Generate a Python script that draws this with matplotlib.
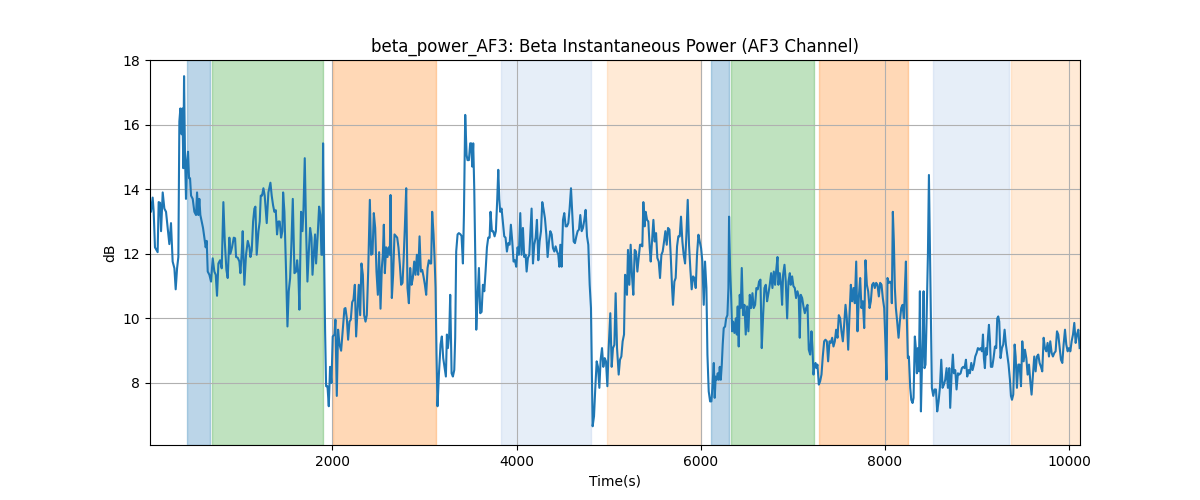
import matplotlib
matplotlib.use("Agg")
import matplotlib.pyplot as plt

time_s = [
    18, 29, 47, 58, 72, 91, 101, 112, 127, 138, 156, 174, 192, 210, 228, 246, 264, 283, 297, 312,
    326, 337, 348, 362, 370, 380, 388, 398, 409, 420, 431, 442, 453, 464, 482, 500, 518, 529, 543, 554,
    565, 580, 594, 609, 623, 634, 645, 663, 681, 699, 717, 732, 746, 761, 779, 797, 815, 830, 848, 862,
    880, 891, 909, 928, 942, 953, 971, 989, 1000, 1014, 1025, 1043, 1061, 1080, 1098, 1109, 1123, 1138, 1152, 1163,
    1177, 1196, 1210, 1221, 1235, 1250, 1264, 1286, 1304, 1326, 1340, 1355, 1369, 1384, 1398, 1413, 1427, 1442, 1456, 1464,
    1478, 1496, 1511, 1525, 1540, 1554, 1569, 1587, 1605, 1616, 1630, 1641, 1659, 1674, 1685, 1699, 1714, 1728, 1743, 1757,
    1772, 1783, 1797, 1811, 1822, 1840, 1855, 1869, 1880, 1891, 1898, 1909, 1920, 1931, 1946, 1960, 1974, 1989, 2003, 2022,
    2032, 2047, 2061, 2076, 2094, 2109, 2130,
    2141, 2156, 2170, 2185, 2199, 2214, 2228, 2243, 2257, 2272, 2286, 2301, 2315, 2330, 2344, 2359, 2373, 2388, 2406, 2420,
    2435, 2449, 2464, 2478, 2493, 2507, 2522, 2536, 2547, 2558, 2569, 2583, 2598, 2612, 2623, 2631, 2645, 2659, 2674, 2688,
    2703, 2717, 2732, 2746, 2761, 2772, 2786, 2801, 2815, 2830, 2844, 2859, 2873, 2888, 2902, 2917, 2931, 2946, 2960, 2975,
    2989, 3004, 3018, 3033, 3047, 3062, 3072, 3083, 3098, 3109, 3120, 3130, 3141, 3156, 3174, 3188, 3203, 3217, 3232, 3243,
    3254, 3268, 3279, 3294, 3308, 3323, 3333, 3344, 3359, 3373, 3391, 3402, 3417, 3428, 3442, 3457, 3467, 3482, 3496, 3507,
    3518, 3529, 3540, 3551, 3562, 3576, 3591, 3605, 3620, 3634, 3649, 3663, 3678, 3692, 3707, 3717, 3732, 3746, 3761, 3775,
    3790, 3801, 3812, 3822, 3837, 3851, 3866, 3880, 3895, 3909, 3924, 3938, 3953, 3967, 3982, 3996, 4011, 4025, 4040, 4054,
    4069, 4083, 4098, 4109, 4123, 4138,
    4149, 4163, 4178, 4192, 4207, 4221, 4236, 4250, 4265, 4279, 4294, 4308, 4323, 4337, 4352, 4366, 4381, 4395, 4410, 4424,
    4439, 4453, 4464, 4475, 4489, 4504, 4518, 4533, 4547, 4562, 4576, 4591, 4605, 4620, 4634, 4649, 4663, 4678, 4692, 4707,
    4721, 4736, 4750, 4765, 4779, 4794, 4808, 4815, 4826, 4841, 4855, 4870, 4884, 4899, 4913, 4928, 4942, 4957, 4971, 4986,
    5000, 5018, 5033, 5047, 5062, 5076, 5091, 5109, 5123, 5138, 5152, 5167, 5178, 5189, 5199, 5210, 5225, 5239, 5254, 5268,
    5283, 5297, 5312, 5326, 5341, 5355, 5366, 5377, 5391, 5402, 5417, 5431, 5446, 5457, 5471, 5486, 5500, 5515, 5529, 5544,
    5558, 5573, 5587, 5602, 5616, 5631, 5645, 5660, 5674, 5689, 5699, 5714, 5728, 5743, 5757, 5772, 5786, 5801, 5815, 5830,
    5844, 5859, 5873, 5888, 5902, 5917, 5931, 5946, 5960, 5975,
    5989, 6004, 6018, 6033, 6047, 6062, 6073, 6087, 6102, 6116, 6127, 6142, 6152, 6163, 6174, 6185, 6196, 6207, 6218, 6229,
    6239, 6250, 6265, 6276, 6290, 6301, 6308, 6319, 6330, 6341, 6352, 6366, 6381, 6392, 6402, 6413, 6424, 6435, 6446, 6460,
    6475, 6489, 6504, 6518, 6533, 6547, 6562, 6576, 6591, 6605, 6620, 6634, 6649, 6663, 6678, 6692, 6707, 6721, 6736, 6750,
    6765, 6779, 6794, 6808, 6819, 6834, 6844, 6859, 6873, 6884, 6895, 6910, 6924, 6939, 6953, 6968, 6978, 6993, 7007, 7022,
    7036, 7051, 7065, 7076, 7087, 7102, 7116, 7131, 7145, 7160, 7174, 7189, 7203, 7214, 7225, 7236, 7247, 7257, 7268, 7283,
    7297, 7312, 7326, 7341, 7355, 7370, 7384, 7399, 7413, 7428, 7442, 7457, 7471, 7486, 7500, 7515, 7529, 7544, 7558, 7573,
    7587, 7602, 7616, 7631, 7645, 7660, 7674, 7689, 7703, 7718, 7732, 7746, 7761, 7776, 7790, 7805, 7819, 7834, 7848, 7862,
    7877, 7891, 7906, 7920, 7935, 7949, 7964, 7978, 7993, 8007, 8018, 8029, 8044,
    8058, 8069, 8076, 8087, 8098, 8109, 8120, 8134, 8149, 8163, 8178, 8192, 8207, 8218, 8229, 8239, 8250, 8261, 8276, 8287,
    8301, 8312, 8326, 8337, 8348, 8359, 8370, 8381, 8392, 8402, 8413, 8421, 8431, 8442, 8453, 8468, 8479, 8489, 8500, 8511,
    8526, 8540, 8555, 8569, 8584, 8598, 8613, 8627, 8642, 8656, 8671, 8685, 8700, 8710, 8725, 8739, 8750, 8765, 8779, 8794,
    8808, 8823, 8837, 8852, 8866, 8881, 8895, 8910, 8924, 8939, 8953, 8968, 8982, 8997, 9011, 9026, 9040, 9055, 9066, 9076,
    9087, 9098, 9109, 9120, 9131, 9142, 9152, 9167, 9181, 9196, 9210, 9221, 9232, 9243, 9257, 9272, 9286, 9301, 9315, 9330,
    9344, 9359, 9370, 9381, 9395, 9410, 9421, 9435, 9450, 9464, 9479, 9493, 9508, 9522, 9537, 9551, 9566, 9580, 9594, 9609,
    9623, 9638, 9652, 9667, 9681, 9696, 9710, 9725, 9739, 9754, 9768, 9783, 9797, 9812, 9826, 9841, 9855, 9870, 9884, 9899,
    9913, 9928, 9942, 9957, 9971, 9986, 10000, 10015, 10029, 10044, 10058, 10073, 10087, 10102, 10116,
]

beta_power_db = [
    13.62, 13.3, 13.74, 13.3, 12.2, 12.1, 12.05, 13.6, 13.58, 12.7, 13.9, 13.4, 13.3, 12.8, 12.3, 12.95, 11.76, 11.55, 10.9, 11.55,
    11.9, 16.1, 16.5, 15.7, 16.5, 14.65, 17.5, 15.06, 13.7, 14.85, 15.16, 14.34, 14.34, 13.8, 13.7, 13.3, 13.2, 13.9, 13.2, 13.7,
    13.2, 13.0, 12.8, 12.5, 12.2, 12.4, 11.45, 11.35, 11.14, 11.86, 11.45, 11.35, 10.7, 11.7, 11.8, 11.55, 13.6, 12.4, 11.5, 11.25,
    12.5, 12.0, 12.2, 12.5, 12.48, 11.9, 11.88, 11.76, 11.4, 12.0, 12.7, 11.04, 11.97, 12.4, 12.2, 11.9, 12.1, 13.0, 13.4, 13.46,
    11.97, 12.7, 13.0, 13.8, 13.8, 14.03, 13.8, 12.95, 13.9, 14.2, 13.8, 13.5, 13.3, 13.35, 12.6, 13.0, 13.0, 12.5, 12.7, 13.9,
    13.3, 11.45, 9.75, 10.84, 11.25, 12.3, 13.7, 11.4, 11.45, 11.8, 11.35, 10.27, 13.3, 12.7, 13.36, 14.96, 12.7, 11.14, 12.05, 12.8,
    12.5, 11.35, 11.97, 12.6, 11.7, 12.6, 13.46, 13.2, 11.97, 11.97, 15.42, 11.97, 9.6, 7.9, 7.9, 7.28, 8.5, 8.0, 9.44, 9.5,
    9.96, 7.6, 9.65, 9.2, 9.0, 9.55, 10.3,
    10.32, 10.0, 9.34, 9.9, 9.96, 10.5, 10.58, 11.04, 9.44, 10.3, 11.04, 10.1, 11.7, 11.35, 10.1, 9.9, 10.1, 11.45, 13.67, 11.97,
    12.0, 13.26, 12.8, 11.45, 10.73, 12.05, 10.3, 11.56, 11.97, 12.9, 11.4, 12.2, 11.9, 12.2, 11.97, 13.82, 10.63, 11.35, 12.6, 12.55,
    12.5, 12.2, 11.66, 11.04, 11.1, 11.76, 12.8, 14.03, 10.94, 10.47, 11.56, 11.04, 11.25, 11.76, 11.35, 11.97, 11.35, 12.54, 11.45, 11.5,
    11.3, 11.04, 10.73, 11.56, 11.8, 11.7, 11.7, 13.3, 12.6, 11.87, 10.94, 8.88, 7.28, 8.26, 9.19, 9.44, 8.77, 8.5, 8.2, 9.5,
    9.08, 9.5, 10.73, 8.3, 8.2, 8.4, 9.4, 12.07, 12.6, 12.64, 12.6, 12.55, 11.7, 13.2, 16.3, 15.06, 14.9, 14.9, 15.42, 15.42,
    14.7, 15.42, 14.03, 11.97, 9.65, 10.63, 11.56, 10.16, 10.2, 11.04, 10.84, 11.45, 12.2, 12.5, 12.5, 13.3, 12.7, 12.7, 12.54, 12.7,
    13.7, 14.6, 13.7, 13.3, 13.4, 13.0, 12.54, 12.5, 12.07, 12.33, 12.28, 12.9, 12.38, 11.76, 11.8, 11.6, 12.2, 11.97, 13.26, 11.97,
    12.8, 11.9, 11.97, 11.45, 11.87, 11.97,
    12.59, 13.4, 11.7, 12.28, 12.5, 13.05, 11.8, 12.38, 12.7, 13.6, 13.36, 13.1, 12.6, 11.9, 12.38, 12.7, 12.6, 12.18, 12.07, 12.23,
    12.07, 11.97, 11.6, 12.28, 11.6, 13.05, 13.26, 12.85, 12.85, 12.95, 13.4, 14.03, 13.26, 12.38, 12.33, 12.54, 12.7, 12.75, 13.2, 12.7,
    12.8, 13.05, 13.36, 12.54, 12.28, 11.04, 10.32, 8.88, 6.66, 6.97, 7.85, 8.67, 8.5, 7.85, 8.72, 9.08, 8.5, 8.77, 8.67, 7.9,
    9.08, 10.16, 8.5, 9.08, 9.18, 10.78, 9.08, 8.26, 8.72, 8.82, 9.29, 9.5, 11.35, 11.3, 10.73, 12.12, 11.04, 12.28, 11.3, 10.73,
    12.12, 12.07, 11.45, 11.87, 12.28, 12.28, 12.23, 13.6, 12.85, 13.3, 13.05, 13.0, 12.18, 11.76, 12.38, 13.05, 12.38, 12.64, 11.87, 11.76,
    11.25, 11.97, 12.07, 12.38, 12.7, 12.28, 12.8, 12.75, 11.97, 10.94, 10.42, 11.14, 11.25, 12.23, 12.54, 12.54, 13.15, 12.38, 11.97, 11.7,
    12.54, 13.67, 12.28, 11.5, 10.9, 11.3, 11.25, 10.94, 11.97, 12.59,
    12.38, 12.18, 11.76, 10.42, 11.76, 10.94, 8.88, 7.74, 7.43, 7.43, 7.85, 8.62, 7.54, 8.2, 8.1, 8.3, 8.1, 8.5, 8.1, 8.57,
    9.19, 9.7, 9.75, 10.0, 10.1, 10.94, 13.15, 11.56, 10.73, 9.6, 9.9, 9.55, 10.0, 9.5, 10.37, 9.13, 10.73, 10.32, 11.56, 10.1,
    10.42, 9.5, 10.37, 9.6, 10.73, 10.32, 10.78, 10.32, 10.42, 10.94, 10.9, 11.14, 11.2, 9.08, 10.1, 10.94, 11.04, 10.53, 10.78, 11.04,
    11.4, 10.94, 11.45, 11.04, 11.45, 11.9, 11.04, 11.4, 11.04, 10.42, 11.35, 11.66, 11.14, 10.0, 11.14, 11.4, 11.04, 11.3, 11.0, 10.94,
    10.63, 10.84, 10.68, 9.4, 10.73, 10.63, 10.37, 10.16, 10.32, 10.42, 9.03, 8.88, 9.6, 9.08, 8.26, 8.57, 8.62, 8.46, 8.57, 7.95,
    8.05, 8.26, 8.82, 9.29, 9.34, 9.29, 8.67, 9.29, 9.24, 9.4, 9.13, 9.29, 9.65, 9.4, 10.1, 10.0, 9.6, 9.29, 9.8, 10.42,
    10.0, 9.03, 10.1, 11.04, 10.53, 10.94, 10.47, 11.76, 9.6, 10.68, 11.25, 10.32, 10.53, 9.7, 11.8, 11.04, 10.84, 10.32, 10.53, 11.04,
    11.1, 10.94, 11.1, 11.04, 10.68, 11.1, 11.04, 10.63, 10.32, 9.19, 8.1, 11.25, 11.1,
    11.12, 11.14, 10.47, 13.3, 12.38, 10.94, 10.32, 9.9, 9.4, 9.9, 10.32, 10.42, 10.0, 10.94, 11.76, 10.0, 8.77, 8.82, 7.85, 7.48,
    7.38, 7.54, 9.44, 9.08, 8.3, 9.08, 8.36, 10.84, 7.12, 8.36, 9.4, 10.84, 8.46, 8.57, 9.9, 11.97, 14.44, 12.38, 9.9, 7.85,
    7.6, 7.8, 7.8, 7.12, 7.43, 7.85, 8.72, 7.85, 7.95, 8.1, 8.46, 7.85, 8.46, 7.23, 8.26, 8.88, 8.3, 8.4, 7.8, 8.3,
    8.26, 8.3, 8.46, 8.5, 8.46, 8.72, 8.2, 8.4, 8.3, 8.62, 8.4, 8.57, 8.82, 8.93, 9.08, 9.03, 9.08, 8.98, 9.5, 8.77,
    8.46, 9.08, 8.88, 9.4, 9.8, 9.29, 8.5, 8.5, 8.77, 9.13, 9.08, 10.0, 10.06, 9.9, 8.77, 9.08, 9.19, 9.65, 9.19, 8.88,
    8.57, 8.1, 7.6, 7.48, 7.64, 9.19, 8.82, 7.85, 8.57, 8.57, 7.9, 9.29, 8.67, 9.03, 8.77, 8.26, 8.57, 8.05, 7.64, 8.26,
    8.82, 8.36, 8.82, 8.88, 8.62, 8.5, 8.36, 9.4, 9.08, 8.98, 9.24, 8.82, 9.29, 8.93, 8.82, 8.93, 8.98, 9.6, 9.5, 9.08,
    8.72, 8.62, 9.19, 9.65, 9.19, 8.98, 9.08, 8.98, 9.29, 9.5, 9.86, 9.24, 9.5, 9.65, 9.08,
]

# shaded intervals
span_starts = [417, 688, 2005, 3836, 4986, 6109, 6326, 7283, 8522, 9372]
span_ends = [670, 1898, 3127, 4812, 6007, 6312, 7236, 8254, 9348, 10120]
span_colors = ["#1f77b4", "#2ca02c", "#ff7f0e", "#aec7e8", "#ffbb78",
               "#1f77b4", "#2ca02c", "#ff7f0e", "#aec7e8", "#ffbb78"]

fig, ax = plt.subplots(figsize=(12, 5), dpi=100)
for s, e, c in zip(span_starts, span_ends, span_colors):
    ax.axvspan(s, e, color=c, alpha=0.3)
ax.plot(time_s, beta_power_db, color="tab:blue", linewidth=1.5)
ax.set_xlim(time_s[0], 10120)
ax.set_ylim(6.08, 18.0)
ax.set_yticks([8, 10, 12, 14, 16, 18])
ax.set_xticks([2000, 4000, 6000, 8000, 10000])
ax.grid(True)
ax.set_title("beta_power_AF3: Beta Instantaneous Power (AF3 Channel)")
ax.set_xlabel("Time(s)")
ax.set_ylabel("dB")
fig.savefig("out.png")
